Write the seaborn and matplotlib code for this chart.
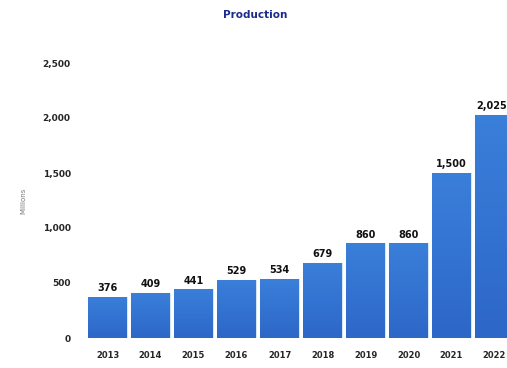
import matplotlib
matplotlib.use("Agg")
import matplotlib.pyplot as plt
from matplotlib.colors import LinearSegmentedColormap
import seaborn as sns
import pandas as pd
import numpy as np

# values
years = ["2013", "2014", "2015", "2016", "2017", "2018", "2019", "2020", "2021", "2022"]
production = [376, 409, 441, 529, 534, 679, 860, 860, 1500, 2025]
yticks = [0, 500, 1000, 1500, 2000, 2500]

df = pd.DataFrame({"year": years, "production": production})

sns.set_theme(style="white")
plt.rcParams["font.family"] = ["DejaVu Sans"]

fig = plt.figure(figsize=(5.07, 3.68), dpi=100)
ax = fig.add_axes([86 / 507, 30 / 368, 421 / 507, 275 / 368])

sns.barplot(data=df, x="year", y="production", color="#3372d0", saturation=1,
            width=0.9, edgecolor="#d4e6fa", linewidth=0.8, ax=ax)

# soft vertical gradient inside each bar (lighter top, darker bottom)
grad = LinearSegmentedColormap.from_list("bar", ["#2d67c8", "#3a7fda"])
col = np.linspace(0, 1, 64).reshape(-1, 1)
for p in list(ax.patches):
    x0, y0 = p.get_x(), p.get_y()
    w, h = p.get_width(), p.get_height()
    im = ax.imshow(col, cmap=grad, origin="lower", aspect="auto",
                   extent=[x0, x0 + w, y0, y0 + h], zorder=p.get_zorder())
    im.set_clip_path(p)

ax.set_xlim(-0.5, 9.29)
ax.set_ylim(0, 2500)
ax.set_yticks(yticks)
ax.set_yticklabels([f"{v:,}" for v in yticks], fontsize=6.5, fontweight="bold")
ax.tick_params(axis="y", pad=11, length=0)
ax.tick_params(axis="x", pad=9, length=0)
for lab in ax.get_xticklabels():
    lab.set_fontsize(6)
    lab.set_fontweight("bold")

ax.set_xlabel("")
ax.set_ylabel("Millions", fontsize=5, color="#777777", labelpad=12)
sns.despine(ax=ax, left=True, bottom=True)
ax.grid(False)

for i, v in enumerate(production):
    xi = i - 0.06 if i == len(production) - 1 else i
    ax.text(xi, v + 35, f"{v:,}", ha="center", va="bottom", fontsize=7,
            fontweight="bold", color="#111111", clip_on=False)

fig.text(255 / 507, 1 - 15 / 368, "Production", ha="center", va="center",
         fontsize=7.5, fontweight="bold", color="#1c2a8c")

fig.savefig("out.png", dpi=100)
